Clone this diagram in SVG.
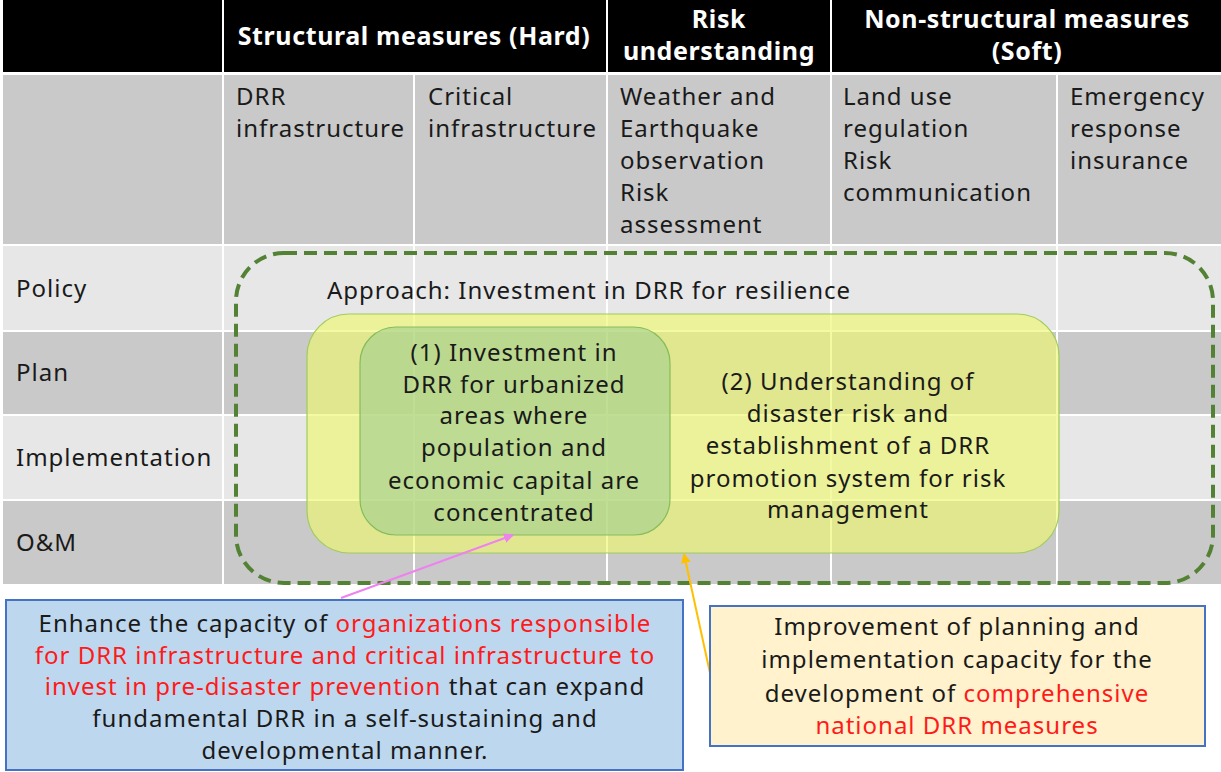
<svg xmlns="http://www.w3.org/2000/svg" width="1221" height="772" viewBox="0 0 1221 772">
  <defs>
    <style>
      text { font-family: "Noto Sans", "Liberation Sans", sans-serif; font-size: 24px; letter-spacing: 1px; fill: #1a1a1a; }
      .hd { font-weight: bold; fill: #ffffff; font-size: 25px; letter-spacing: 0.6px; }
      .mid { text-anchor: middle; }
      .red { fill: #ff1a1a; }
      .blk { fill: #000000; }
      .g1 { fill: #c9c9c9; }
      .g2 { fill: #e7e7e7; }
    </style>
    <marker id="arrPink" viewBox="0 0 10 10" refX="9" refY="5" markerWidth="5" markerHeight="5" orient="auto">
      <path d="M0,0 L10,5 L0,10 z" fill="#ee82ee"/>
    </marker>
    <marker id="arrGold" viewBox="0 0 10 10" refX="9" refY="5" markerWidth="5" markerHeight="5" orient="auto">
      <path d="M0,0 L10,5 L0,10 z" fill="#ffc000"/>
    </marker>
  </defs>

  <rect width="1221" height="772" fill="#ffffff"/>

  <!-- header row -->
  <g id="header">
    <rect class="blk" x="3" y="0" width="219" height="72"/>
    <rect class="blk" x="224" y="0" width="382" height="72"/>
    <rect class="blk" x="608" y="0" width="222" height="72"/>
    <rect class="blk" x="832" y="0" width="389" height="72"/>
    <text class="hd mid" x="414" y="45">Structural measures (Hard)</text>
    <text class="hd mid" x="719" y="28">Risk</text>
    <text class="hd mid" x="719" y="60">understanding</text>
    <text class="hd mid" x="1027" y="28">Non-structural measures</text>
    <text class="hd mid" x="1027" y="60">(Soft)</text>
  </g>

  <!-- category row -->
  <g id="categories">
    <rect class="g1" x="3" y="75" width="219" height="169"/>
    <rect class="g1" x="224" y="75" width="189" height="169"/>
    <rect class="g1" x="415" y="75" width="191" height="169"/>
    <rect class="g1" x="608" y="75" width="222" height="169"/>
    <rect class="g1" x="832" y="75" width="224" height="169"/>
    <rect class="g1" x="1058" y="75" width="163" height="169"/>
    <text x="236" y="105">DRR</text>
    <text x="236" y="137">infrastructure</text>
    <text x="428" y="105">Critical</text>
    <text x="428" y="137">infrastructure</text>
    <text x="620" y="105">Weather and</text>
    <text x="620" y="137">Earthquake</text>
    <text x="620" y="169">observation</text>
    <text x="620" y="201">Risk</text>
    <text x="620" y="233">assessment</text>
    <text x="843" y="105">Land use</text>
    <text x="843" y="137">regulation</text>
    <text x="843" y="169">Risk</text>
    <text x="843" y="201">communication</text>
    <text x="1070" y="105">Emergency</text>
    <text x="1070" y="137">response</text>
    <text x="1070" y="169">insurance</text>
  </g>

  <!-- phase rows -->
  <g id="phases">
    <g class="g2">
      <rect x="3" y="246" width="219" height="84"/>
      <rect x="224" y="246" width="189" height="84"/>
      <rect x="415" y="246" width="191" height="84"/>
      <rect x="608" y="246" width="222" height="84"/>
      <rect x="832" y="246" width="224" height="84"/>
      <rect x="1058" y="246" width="163" height="84"/>
      <rect x="3" y="416" width="219" height="83"/>
      <rect x="224" y="416" width="189" height="83"/>
      <rect x="415" y="416" width="191" height="83"/>
      <rect x="608" y="416" width="222" height="83"/>
      <rect x="832" y="416" width="224" height="83"/>
      <rect x="1058" y="416" width="163" height="83"/>
    </g>
    <g class="g1">
      <rect x="3" y="332" width="219" height="82"/>
      <rect x="224" y="332" width="189" height="82"/>
      <rect x="415" y="332" width="191" height="82"/>
      <rect x="608" y="332" width="222" height="82"/>
      <rect x="832" y="332" width="224" height="82"/>
      <rect x="1058" y="332" width="163" height="82"/>
      <rect x="3" y="501" width="219" height="83"/>
      <rect x="224" y="501" width="189" height="83"/>
      <rect x="415" y="501" width="191" height="83"/>
      <rect x="608" y="501" width="222" height="83"/>
      <rect x="832" y="501" width="224" height="83"/>
      <rect x="1058" y="501" width="163" height="83"/>
    </g>
    <text x="16" y="297">Policy</text>
    <text x="16" y="381">Plan</text>
    <text x="16" y="466">Implementation</text>
    <text x="16" y="551">O&amp;M</text>
  </g>

  <!-- approach frame -->
  <g id="approach">
    <rect x="236" y="253" width="977" height="330" rx="48" fill="none" stroke="#548235" stroke-width="4" stroke-dasharray="13 7"/>
    <text x="327" y="299">Approach: Investment in DRR for resilience</text>
  </g>

  <g id="understanding">
    <rect x="307" y="314" width="752" height="239" rx="42" fill="#eef76e" fill-opacity="0.65" stroke="#a2cc5c" stroke-width="1.2"/>
    <text class="mid" x="848" y="390">(2) Understanding of</text>
    <text class="mid" x="848" y="422">disaster risk and</text>
    <text class="mid" x="848" y="454">establishment of a DRR</text>
    <text class="mid" x="848" y="487">promotion system for risk</text>
    <text class="mid" x="848" y="518">management</text>
  </g>

  <g id="investment">
    <rect x="360" y="327" width="310" height="208" rx="36" fill="#a9d18e" fill-opacity="0.7" stroke="#86bd5a" stroke-width="1.2"/>
    <text class="mid" x="514" y="361">(1) Investment in</text>
    <text class="mid" x="514" y="393">DRR for urbanized</text>
    <text class="mid" x="514" y="424">areas where</text>
    <text class="mid" x="514" y="456">population and</text>
    <text class="mid" x="514" y="489">economic capital are</text>
    <text class="mid" x="514" y="521">concentrated</text>
  </g>

  <!-- connectors -->
  <g id="connectors" fill="none" stroke-width="2">
    <line x1="341" y1="598" x2="513" y2="535" stroke="#ee82ee" marker-end="url(#arrPink)"/>
    <line x1="710" y1="673" x2="684" y2="554" stroke="#ffc000" marker-end="url(#arrGold)"/>
  </g>

  <g id="organization-capacity">
    <rect x="6" y="600" width="677" height="170" fill="#bdd7ee" stroke="#4472c4" stroke-width="2"/>
    <text class="mid" x="345" y="632">Enhance the capacity of <tspan class="red">organizations responsible</tspan></text>
    <text class="mid red" x="345" y="664">for DRR infrastructure and critical infrastructure to</text>
    <text class="mid" x="345" y="695"><tspan class="red">invest in pre-disaster prevention</tspan> that can expand</text>
    <text class="mid" x="345" y="727">fundamental DRR in a self-sustaining and</text>
    <text class="mid" x="345" y="759">developmental manner.</text>
  </g>

  <g id="national-capacity">
    <rect x="710" y="606" width="495" height="140" fill="#fff2cc" stroke="#4472c4" stroke-width="2"/>
    <text class="mid" x="957" y="635">Improvement of planning and</text>
    <text class="mid" x="957" y="668">implementation capacity for the</text>
    <text class="mid" x="957" y="702">development of <tspan class="red">comprehensive</tspan></text>
    <text class="mid red" x="957" y="734">national DRR measures</text>
  </g>
</svg>
